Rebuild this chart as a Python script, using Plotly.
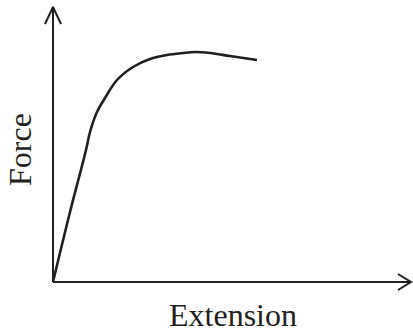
import plotly.graph_objects as go

# Curve data (arbitrary units)
extension = [0, 16, 33, 37, 44, 52, 64, 80, 97, 114, 130, 142, 157, 177, 204]
force = [0, 66, 132, 150, 170, 184, 202, 215, 223, 227, 229, 230, 229, 226, 222]

x_label = "Extension"
y_label = "Force"

# axis extents
X_MAX = 358
Y_MAX = 275
INK = "#231f20"
FONT = "Liberation Serif, Times New Roman, serif"

fig = go.Figure()

# axes with open arrowheads
fig.add_trace(go.Scatter(x=[0, 0, None, 0, X_MAX], y=[Y_MAX, 0, None, 0, 0],
                         mode="lines", line=dict(color=INK, width=2), hoverinfo="skip"))
fig.add_trace(go.Scatter(x=[-8, 0, 8, None, X_MAX - 13, X_MAX, X_MAX - 13],
                         y=[Y_MAX - 17, Y_MAX, Y_MAX - 17, None, 8, 0, -8],
                         mode="lines", line=dict(color=INK, width=2), hoverinfo="skip"))

# force-extension curve
fig.add_trace(go.Scatter(x=extension, y=force, mode="lines",
                         line=dict(color=INK, width=2.6, shape="spline", smoothing=1.0),
                         hoverinfo="skip"))

fig.add_annotation(x=180, y=-33, text=x_label, showarrow=False,
                   font=dict(family=FONT, size=32, color=INK), xanchor="center", yanchor="middle")
fig.add_annotation(x=-33, y=132, text=y_label, showarrow=False, textangle=-90,
                   font=dict(family=FONT, size=32, color=INK), xanchor="center", yanchor="middle")

fig.update_layout(
    width=413, height=332,
    margin=dict(l=0, r=0, t=0, b=0),
    paper_bgcolor="white", plot_bgcolor="white",
    showlegend=False,
    xaxis=dict(range=[-53, 360], visible=False, fixedrange=True),
    yaxis=dict(range=[-50, 282], visible=False, fixedrange=True),
)

fig.write_html("out.html", config={"displayModeBar": False},
               post_script="document.body.style.margin='0';document.body.style.overflow='hidden';")
